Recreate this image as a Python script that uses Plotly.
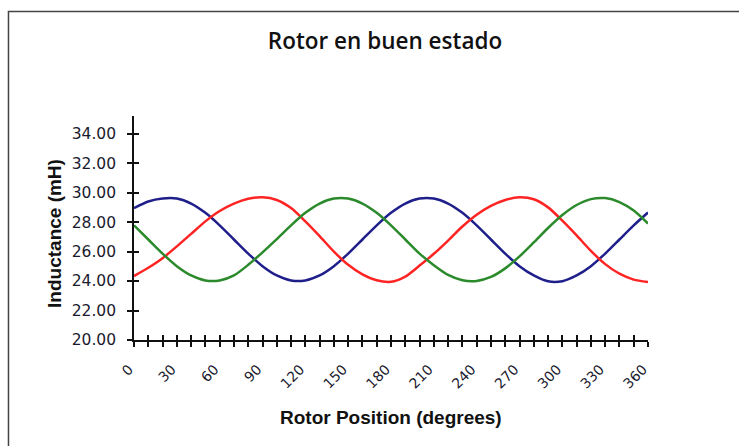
import plotly.graph_objects as go

# Rotor position (mechanical degrees)
angles = [0, 10, 20, 30, 40, 50, 60, 70, 80, 90, 100, 110, 120, 130, 140, 150, 160, 170, 180,
          190, 200, 210, 220, 230, 240, 250, 260, 270, 280, 290, 300, 310, 320, 330, 340, 350, 360]

# Phase inductances (mH)
phase_a = [28.95, 29.40, 29.60, 29.60, 29.26, 28.63, 27.78, 26.82, 25.86, 25.01, 24.38, 24.04, 24.04,
           24.38, 25.01, 25.86, 26.82, 27.78, 28.63, 29.26, 29.60, 29.60, 29.26, 28.63, 27.78, 26.82,
           25.86, 25.01, 24.38, 23.98, 23.99, 24.38, 25.01, 25.86, 26.82, 27.78, 28.65]
phase_b = [24.34, 24.90, 25.55, 26.35, 27.20, 28.05, 28.75, 29.25, 29.58, 29.68, 29.50, 28.95, 28.05,
           27.05, 26.00, 25.10, 24.45, 24.05, 23.95, 24.30, 25.05, 25.85, 26.75, 27.70, 28.50, 29.10,
           29.50, 29.68, 29.55, 29.00, 28.10, 27.10, 26.05, 25.15, 24.50, 24.10, 23.93]
phase_c = [27.78, 26.82, 25.86, 25.01, 24.38, 24.04, 24.04, 24.38, 25.10, 25.95, 26.85, 27.78, 28.63,
           29.26, 29.60, 29.60, 29.26, 28.63, 27.78, 26.82, 25.86, 25.08, 24.42, 24.06, 24.01, 24.28,
           24.86, 25.67, 26.62, 27.60, 28.48, 29.16, 29.56, 29.63, 29.36, 28.78, 27.90]

x_ticks = [0, 30, 60, 90, 120, 150, 180, 210, 240, 270, 300, 330, 360]
y_ticks = [20, 22, 24, 26, 28, 30, 32, 34]

series = [
    ("Fase A", phase_a, "#1f1f8c"),
    ("Fase B", phase_b, "#ff2424"),
    ("Fase C", phase_c, "#2b8a2b"),
]

fig = go.Figure()
for name, vals, color in series:
    fig.add_trace(go.Scatter(x=angles, y=vals, name=name, mode="lines",
                             line=dict(color=color, width=2.5, shape="spline", smoothing=0.7),
                             showlegend=False))

# invisible trace to host the overlay axes that draw the inner half of the cross ticks
fig.add_trace(go.Scatter(x=[0], y=[20], xaxis="x2", yaxis="y2", mode="markers",
                         marker=dict(opacity=0), showlegend=False, hoverinfo="skip"))

label_color = "#1a1a2e"
x_range = [0, 360]
y_range = [20, 35.2]

fig.update_layout(
    width=739, height=446,
    margin=dict(l=134, r=91, t=116, b=106),
    paper_bgcolor="white", plot_bgcolor="white",
    title=dict(text="Rotor en buen estado", x=0.521, xref="container", xanchor="center",
               y=0.907, yref="container", yanchor="middle",
               font=dict(family="Open Sans", size=22.5, color="#111111", weight=600)),
    xaxis=dict(range=x_range, tickmode="array", tickvals=x_ticks,
               # en space after each label sets the rotated text slightly back from its tick
               ticktext=[f"{v}\u2002" for v in x_ticks],
               tickangle=-45, tickfont=dict(family="DejaVu Sans", size=14, color=label_color),
               ticklabelstandoff=4,
               ticks="outside", ticklen=5, tickwidth=1.5, tickcolor="#111",
               minor=dict(tickmode="linear", tick0=0, dtick=10, ticks="outside", ticklen=5,
                          tickwidth=1.5, tickcolor="#111"),
               showline=True, linecolor="#111", linewidth=1.6,
               showgrid=False, zeroline=False, fixedrange=True),
    yaxis=dict(range=y_range, tickmode="array", tickvals=y_ticks,
               ticktext=[f"{v:.2f}" for v in y_ticks],
               tickfont=dict(family="DejaVu Sans", size=15.5, color=label_color),
               ticklabelstandoff=8,
               ticks="outside", ticklen=5, tickwidth=1.5, tickcolor="#111",
               showline=True, linecolor="#111", linewidth=1.6,
               showgrid=False, zeroline=False, fixedrange=True),
    xaxis2=dict(range=x_range, overlaying="x", anchor="y2", side="bottom",
                tickmode="linear", tick0=0, dtick=10, ticks="inside", ticklen=5,
                tickwidth=1.5, tickcolor="#111", showticklabels=False,
                showline=False, showgrid=False, zeroline=False),
    yaxis2=dict(range=y_range, overlaying="y", anchor="x2", side="left",
                tickmode="array", tickvals=y_ticks, ticks="inside", ticklen=5,
                tickwidth=1.5, tickcolor="#111", showticklabels=False,
                showline=False, showgrid=False, zeroline=False),
    annotations=[
        dict(text="<b>Rotor Position (degrees)</b>", xref="paper", yref="paper",
             x=0.5, y=-0.344, xanchor="center", yanchor="middle", showarrow=False,
             font=dict(family="Liberation Sans", size=19, color="#111")),
        dict(text="<b>Inductance (mH)</b>", xref="paper", yref="paper",
             x=-0.1537, y=0.478, xanchor="center", yanchor="middle", showarrow=False,
             textangle=-90, font=dict(family="Liberation Sans", size=19, color="#111")),
    ],
    shapes=[
        dict(type="rect", xref="paper", yref="paper",
             x0=-0.2442, y0=-0.6, x1=1.3, y1=1.4665,
             line=dict(color="#444", width=1.5), fillcolor="rgba(0,0,0,0)", layer="below"),
    ],
)

fig.write_html("out.html")
